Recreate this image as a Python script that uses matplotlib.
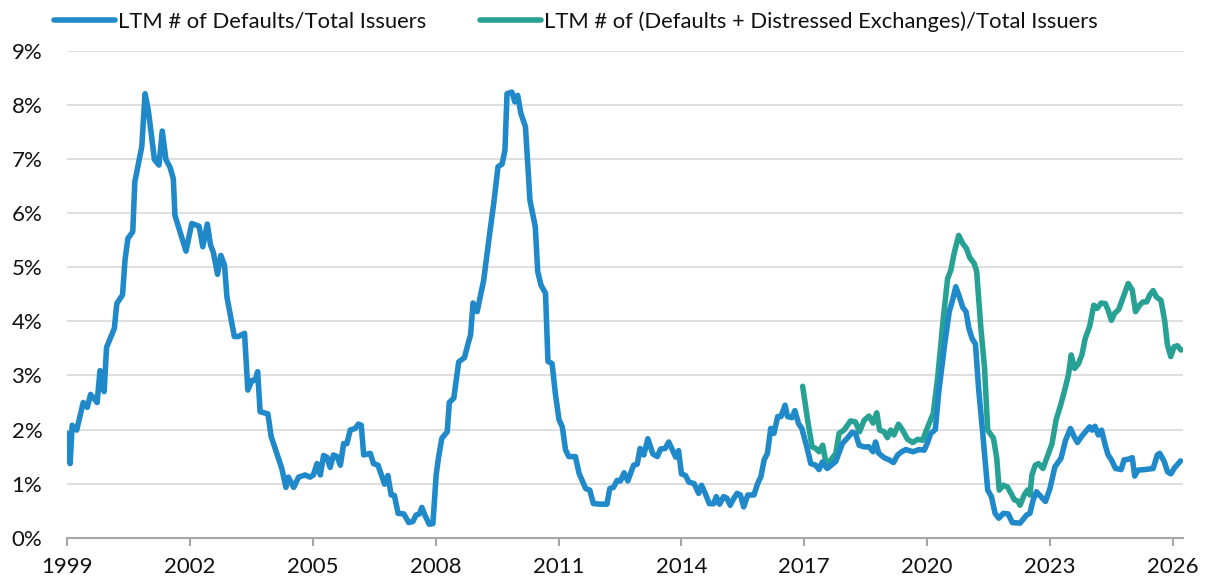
import matplotlib
matplotlib.use("Agg")
import matplotlib.pyplot as plt
import matplotlib.ticker as mticker

# ── Data (x = decimal year, y = %) ─────────────────────────────────────────────
blue_x = [
    1999.00, 1999.07, 1999.12, 1999.23, 1999.39, 1999.49, 1999.57, 1999.73, 1999.80, 1999.90,
    1999.96, 2000.15, 2000.21, 2000.35, 2000.41, 2000.48, 2000.60, 2000.65, 2000.82, 2000.90,
    2000.98, 2001.13, 2001.24, 2001.32, 2001.41, 2001.51, 2001.59, 2001.63, 2001.90, 2002.04,
    2002.22, 2002.31, 2002.42, 2002.50, 2002.57, 2002.67, 2002.75, 2002.84, 2002.90, 2003.08,
    2003.18, 2003.33, 2003.41, 2003.51, 2003.59, 2003.65, 2003.71, 2003.90, 2003.98, 2004.24,
    2004.34, 2004.40, 2004.53, 2004.65, 2004.81, 2004.93, 2005.01, 2005.10, 2005.18, 2005.26,
    2005.34, 2005.42, 2005.50, 2005.59, 2005.67, 2005.75, 2005.83, 2005.91, 2006.03, 2006.11,
    2006.18, 2006.24, 2006.40, 2006.48, 2006.59, 2006.75, 2006.83, 2006.91, 2006.99, 2007.08,
    2007.22, 2007.34, 2007.44, 2007.52, 2007.60, 2007.66, 2007.75, 2007.84, 2007.93, 2008.01,
    2008.07, 2008.15, 2008.28, 2008.33, 2008.44, 2008.56, 2008.70, 2008.79, 2008.85, 2008.91,
    2009.01, 2009.17, 2009.30, 2009.42, 2009.52, 2009.62, 2009.69, 2009.74, 2009.86, 2009.93,
    2010.00, 2010.08, 2010.19, 2010.30, 2010.43, 2010.49, 2010.57, 2010.68, 2010.74, 2010.84,
    2010.92, 2011.01, 2011.09, 2011.17, 2011.25, 2011.41, 2011.50, 2011.66, 2011.76, 2011.85,
    2012.02, 2012.18, 2012.25, 2012.34, 2012.43, 2012.51, 2012.60, 2012.69, 2012.83, 2012.92,
    2012.99, 2013.08, 2013.18, 2013.30, 2013.41, 2013.49, 2013.60, 2013.69, 2013.78, 2013.86,
    2013.93, 2014.00, 2014.10, 2014.18, 2014.31, 2014.42, 2014.49, 2014.58, 2014.68, 2014.79,
    2014.85, 2014.93, 2015.03, 2015.11, 2015.19, 2015.28, 2015.36, 2015.44, 2015.52, 2015.62,
    2015.77, 2015.86, 2015.94, 2016.02, 2016.10, 2016.18, 2016.26, 2016.35, 2016.43, 2016.53,
    2016.59, 2016.70, 2016.77, 2016.86, 2016.94, 2017.04, 2017.16, 2017.28, 2017.36, 2017.44,
    2017.56, 2017.77, 2017.93, 2018.05, 2018.17, 2018.25, 2018.34, 2018.46, 2018.58, 2018.68,
    2018.74, 2018.82, 2018.95, 2019.07, 2019.18, 2019.28, 2019.38, 2019.48, 2019.65, 2019.81,
    2019.93, 2020.01, 2020.09, 2020.20, 2020.28, 2020.42, 2020.54, 2020.62, 2020.70, 2020.79,
    2020.87, 2020.95, 2021.02, 2021.10, 2021.18, 2021.26, 2021.35, 2021.48, 2021.57, 2021.66,
    2021.75, 2021.86, 2021.98, 2022.08, 2022.27, 2022.43, 2022.51, 2022.59, 2022.67, 2022.78,
    2022.89, 2023.00, 2023.12, 2023.27, 2023.38, 2023.50, 2023.59, 2023.67, 2023.77, 2023.89,
    2023.97, 2024.03, 2024.10, 2024.18, 2024.26, 2024.35, 2024.42, 2024.50, 2024.60, 2024.74,
    2024.81, 2024.91, 2025.01, 2025.07, 2025.15, 2025.32, 2025.52, 2025.62, 2025.68, 2025.79,
    2025.87, 2025.95, 2026.05, 2026.19,
]
blue_y = [
    1.93, 1.37, 2.08, 1.99, 2.50, 2.41, 2.65, 2.50, 3.09, 2.70,
    3.52, 3.87, 4.33, 4.49, 5.13, 5.53, 5.66, 6.58, 7.23, 8.21,
    7.90, 6.99, 6.89, 7.52, 6.99, 6.85, 6.64, 5.96, 5.30, 5.81,
    5.76, 5.38, 5.80, 5.41, 5.27, 4.87, 5.22, 5.04, 4.45, 3.72,
    3.72, 3.78, 2.73, 2.91, 2.91, 3.07, 2.33, 2.29, 1.87, 1.28,
    0.93, 1.12, 0.93, 1.12, 1.16, 1.12, 1.16, 1.37, 1.16, 1.52,
    1.49, 1.30, 1.53, 1.50, 1.34, 1.74, 1.74, 1.99, 2.02, 2.10,
    2.08, 1.53, 1.56, 1.37, 1.34, 0.99, 1.15, 0.79, 0.78, 0.45,
    0.44, 0.28, 0.30, 0.42, 0.44, 0.56, 0.39, 0.25, 0.26, 1.16,
    1.50, 1.84, 1.96, 2.50, 2.58, 3.25, 3.33, 3.59, 3.75, 4.34,
    4.18, 4.76, 5.53, 6.21, 6.86, 6.91, 7.17, 8.21, 8.24, 8.06,
    8.18, 7.84, 7.60, 6.24, 5.75, 4.92, 4.67, 4.52, 3.26, 3.22,
    2.67, 2.18, 2.05, 1.62, 1.50, 1.50, 1.19, 0.91, 0.88, 0.63,
    0.62, 0.62, 0.91, 0.93, 1.06, 1.05, 1.20, 1.05, 1.34, 1.36,
    1.65, 1.53, 1.83, 1.55, 1.50, 1.64, 1.65, 1.77, 1.62, 1.49,
    1.61, 1.18, 1.15, 1.03, 1.00, 0.82, 0.97, 0.82, 0.63, 0.63,
    0.76, 0.62, 0.76, 0.73, 0.60, 0.73, 0.82, 0.79, 0.57, 0.79,
    0.79, 1.00, 1.13, 1.44, 1.56, 2.02, 1.93, 2.24, 2.24, 2.45,
    2.24, 2.22, 2.35, 2.11, 2.02, 1.74, 1.37, 1.34, 1.26, 1.40,
    1.28, 1.41, 1.74, 1.84, 1.95, 1.93, 1.71, 1.68, 1.68, 1.59,
    1.77, 1.56, 1.48, 1.44, 1.39, 1.53, 1.59, 1.63, 1.59, 1.63,
    1.62, 1.76, 1.93, 2.00, 2.67, 3.53, 4.18, 4.39, 4.64, 4.45,
    4.26, 4.18, 3.87, 3.68, 3.58, 2.73, 2.00, 0.88, 0.76, 0.45,
    0.36, 0.45, 0.44, 0.28, 0.27, 0.42, 0.45, 0.70, 0.85, 0.76,
    0.67, 0.91, 1.31, 1.47, 1.80, 2.02, 1.87, 1.76, 1.87, 1.98,
    2.05, 1.99, 2.06, 1.90, 1.99, 1.71, 1.53, 1.44, 1.28, 1.26,
    1.44, 1.45, 1.48, 1.14, 1.25, 1.26, 1.28, 1.53, 1.56, 1.41,
    1.22, 1.18, 1.30, 1.42,
]

teal_x = [
    2016.96, 2017.08, 2017.19, 2017.28, 2017.36, 2017.45, 2017.54, 2017.65, 2017.77, 2017.85,
    2017.97, 2018.13, 2018.25, 2018.35, 2018.46, 2018.58, 2018.68, 2018.77, 2018.84, 2018.95,
    2019.03, 2019.11, 2019.19, 2019.30, 2019.40, 2019.52, 2019.65, 2019.77, 2019.89, 2020.01,
    2020.15, 2020.26, 2020.39, 2020.50, 2020.58, 2020.66, 2020.77, 2020.87, 2020.96, 2021.04,
    2021.15, 2021.21, 2021.31, 2021.40, 2021.48, 2021.62, 2021.70, 2021.76, 2021.86, 2021.96,
    2022.07, 2022.13, 2022.21, 2022.27, 2022.37, 2022.45, 2022.51, 2022.56, 2022.64, 2022.72,
    2022.83, 2022.95, 2023.05, 2023.15, 2023.26, 2023.36, 2023.45, 2023.52, 2023.60, 2023.69,
    2023.78, 2023.86, 2023.97, 2024.07, 2024.15, 2024.25, 2024.35, 2024.42, 2024.50, 2024.58,
    2024.68, 2024.79, 2024.91, 2025.01, 2025.09, 2025.19, 2025.27, 2025.36, 2025.44, 2025.52,
    2025.60, 2025.71, 2025.80, 2025.87, 2025.95, 2026.03, 2026.11, 2026.20,
]
teal_y = [
    2.80, 2.18, 1.68, 1.65, 1.59, 1.71, 1.34, 1.44, 1.56, 1.93,
    1.99, 2.16, 2.14, 1.96, 2.17, 2.25, 2.12, 2.31, 1.99, 1.96,
    1.85, 1.99, 1.90, 2.10, 1.99, 1.82, 1.76, 1.82, 1.80, 2.04,
    2.30, 2.98, 4.02, 4.79, 4.95, 5.26, 5.59, 5.44, 5.35, 5.18,
    5.07, 4.92, 3.90, 3.16, 1.99, 1.84, 1.47, 0.88, 0.97, 0.94,
    0.79, 0.70, 0.68, 0.60, 0.79, 0.88, 0.79, 1.16, 1.34, 1.37,
    1.28, 1.53, 1.74, 2.18, 2.45, 2.73, 3.01, 3.38, 3.13, 3.21,
    3.38, 3.68, 3.91, 4.30, 4.24, 4.34, 4.33, 4.21, 4.02, 4.15,
    4.22, 4.45, 4.70, 4.58, 4.18, 4.30, 4.36, 4.36, 4.49, 4.57,
    4.45, 4.39, 4.02, 3.56, 3.35, 3.53, 3.55, 3.47,
]

blue_label = "LTM # of Defaults/Total Issuers"
teal_label = "LTM # of (Defaults + Distressed Exchanges)/Total Issuers"
year_ticks = [1999, 2002, 2005, 2008, 2011, 2014, 2017, 2020, 2023, 2026]
pct_ticks = list(range(0, 10))

BLUE = "#2089c9"
TEAL = "#28a195"

plt.rcParams["font.family"] = ["Lato", "DejaVu Sans"]

fig = plt.figure(figsize=(12.14, 5.82), dpi=100)
ax = fig.add_axes([0.0554, 0.0761, 0.9191, 0.8363])

lw = 4.0
ax.plot(blue_x, blue_y, color=BLUE, lw=lw, solid_joinstyle="round",
        solid_capstyle="round", label=blue_label, zorder=3)
ax.plot(teal_x, teal_y, color=TEAL, lw=lw, solid_joinstyle="round",
        solid_capstyle="round", label=teal_label, zorder=2)

ax.set_xlim(1999, 2026.25)
ax.set_ylim(0, 9)
ax.set_xticks(year_ticks)
ax.set_yticks(pct_ticks)
ax.yaxis.set_major_formatter(mticker.FuncFormatter(lambda v, p: f"{int(v)}%"))

ax.grid(axis="y", color="#d9d9d9", linewidth=1.2, zorder=0)
ax.set_axisbelow(True)
for s in ["top", "right", "left"]:
    ax.spines[s].set_visible(False)
ax.spines["bottom"].set_color("#a6a6a6")
ax.spines["bottom"].set_linewidth(1.5)
ax.tick_params(axis="x", length=6, width=1.5, color="#a6a6a6",
               labelsize=16, pad=8, labelcolor="#111111")
ax.tick_params(axis="y", length=0, labelsize=16, pad=18, labelcolor="#111111")

fig.legend(loc="upper left", bbox_to_anchor=(0.028, 1.015), ncol=2, frameon=False,
           fontsize=15.8, handlelength=2.8, handletextpad=0.12, columnspacing=2.45,
           labelcolor="#111111")

fig.savefig("out.png", dpi=100)
